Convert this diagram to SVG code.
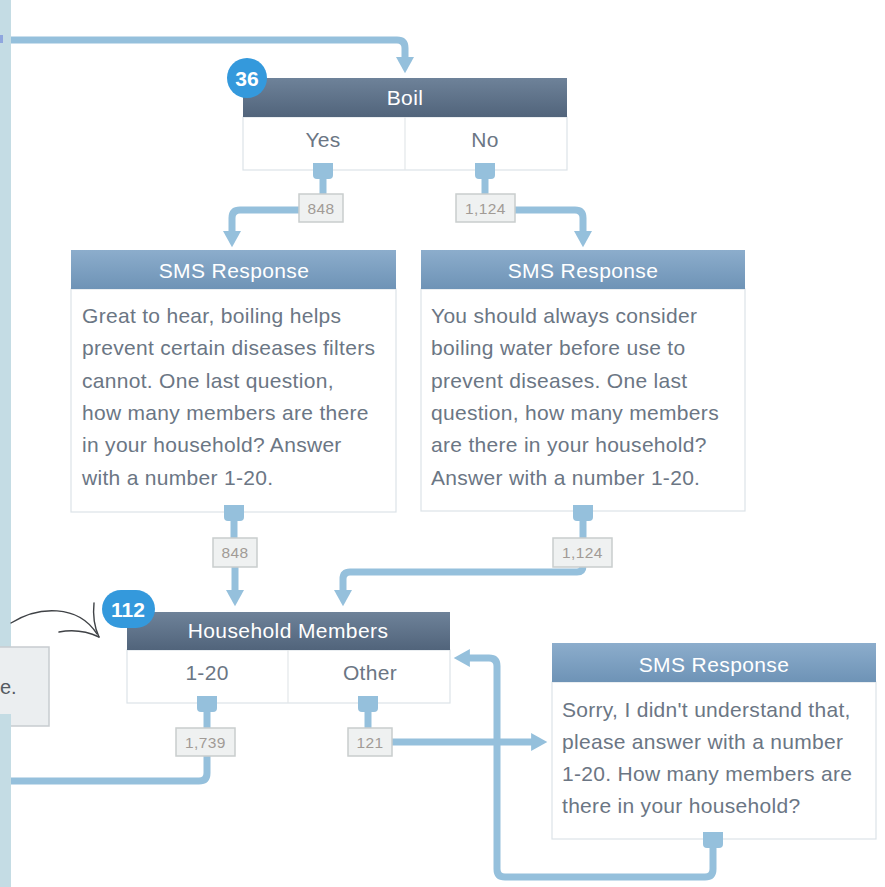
<svg xmlns="http://www.w3.org/2000/svg" width="885" height="887" viewBox="0 0 885 887">
<defs>
<linearGradient id="gDark" x1="0" y1="0" x2="0" y2="1">
<stop offset="0" stop-color="#6e8299"/><stop offset="1" stop-color="#51647b"/>
</linearGradient>
<linearGradient id="gSms" x1="0" y1="0" x2="0" y2="1">
<stop offset="0" stop-color="#8cadcc"/><stop offset="1" stop-color="#6e93b6"/>
</linearGradient>
<path id="port" d="M-10 0 H10 V12 Q10 16 6 16 H-6 Q-10 16 -10 12 Z"/>
<marker id="arr" markerWidth="20" markerHeight="18" refX="1" refY="10" orient="auto" markerUnits="userSpaceOnUse" viewBox="0 0 20 20">
<path d="M0 0 L18 10 L0 20 Z" fill="#95c0dc"/>
</marker>
<style>
.hdr{font-family:"Liberation Sans",Arial,sans-serif;font-size:21px;fill:#ffffff;text-anchor:middle;letter-spacing:0.4px}
.body{fill:#ffffff;stroke:#dce3e8;stroke-width:1.2}
.opt{font-family:"Liberation Sans",Arial,sans-serif;font-size:21px;fill:#6b7684;text-anchor:middle;letter-spacing:0.3px}
.txt{font-family:"Liberation Sans",Arial,sans-serif;font-size:21px;fill:#6b7684;letter-spacing:0.3px}
.div{stroke:#e3e7ea;stroke-width:1.2}
.badge{fill:#3499dc}
.btxt{font-family:"Liberation Sans",Arial,sans-serif;font-size:21px;font-weight:bold;fill:#ffffff;text-anchor:middle}
.conn{fill:none;stroke:#95c0dc;stroke-width:7;stroke-linejoin:round}
.pt{fill:#95c0dc}
.lbl rect{fill:#eff1f1;stroke:#c9cdcd;stroke-width:1.5}
.lbl text{font-family:"Liberation Sans",Arial,sans-serif;font-size:15.5px;fill:#a19b96;text-anchor:middle;letter-spacing:0.4px}
</style>
</defs>
<rect width="885" height="887" fill="#ffffff"/>

<!-- left sidebar -->
<rect x="0" y="0" width="11" height="887" fill="#c4dce4"/>
<rect x="0" y="35" width="3" height="8" fill="#8fa6de"/>

<!-- comment box -->
<g id="comment">
<rect x="-5" y="647" width="54" height="79" fill="#ebeef0" stroke="#c7ccd0" stroke-width="1.5"/>
<text x="0" y="694" font-family="Liberation Sans, Arial, sans-serif" font-size="20" fill="#555b62">e.</text>
</g>
<rect x="0" y="714" width="11" height="173" fill="#c4dce4"/>
<g id="hand-arrow" fill="none" stroke="#3f4246" stroke-width="1.4" stroke-linecap="round">
<path d="M11 623 C38 606 78 604 97 634"/>
<path d="M94 603 Q92 622 99 637"/>
<path d="M59 632 Q80 628 99 637"/>
</g>

<!-- connectors -->
<g id="connectors">
<path class="conn" d="M11 40 H397 Q405 40 405 48 V58" marker-end="url(#arr)"/>
<path class="conn" d="M323 178 V196"/>
<path class="conn" d="M300 210 H240 Q232 210 232 218 V232" marker-end="url(#arr)"/>
<path class="conn" d="M485 178 V196"/>
<path class="conn" d="M514 210 H575 Q583 210 583 218 V232" marker-end="url(#arr)"/>
<path class="conn" d="M234 520 V540"/>
<path class="conn" d="M235 566 V591" marker-end="url(#arr)"/>
<path class="conn" d="M583 520 V540"/>
<path class="conn" d="M583 566 Q583 572 577 572 H350 Q343 572 343 579 V591" marker-end="url(#arr)"/>
<path class="conn" d="M207 710 V730"/>
<path class="conn" d="M207 755 V773 Q207 781 199 781 H11"/>
<path class="conn" d="M368 710 V730"/>
<path class="conn" d="M391 742 H532" marker-end="url(#arr)"/>
<path class="conn" d="M713 845 V869 Q713 877 705 877 H505 Q497 877 497 869 V666 Q497 658 489 658 H469" marker-end="url(#arr)"/>
</g>

<!-- Boil node -->
<g id="node-boil">
<rect class="body" x="243" y="117" width="324" height="53"/>
<rect x="243" y="78" width="324" height="39" fill="url(#gDark)"/>
<line class="div" x1="405" y1="117" x2="405" y2="170"/>
<text class="hdr" x="405" y="105">Boil</text>
<text class="opt" x="323" y="147">Yes</text>
<text class="opt" x="485" y="147">No</text>
<use href="#port" class="pt" x="323" y="163"/>
<use href="#port" class="pt" x="485" y="163"/>
<circle class="badge" cx="247" cy="78" r="20"/>
<text class="btxt" x="247" y="86">36</text>
</g>

<!-- SMS left -->
<g id="node-sms-yes">
<rect class="body" x="71" y="289" width="325" height="223"/>
<rect x="71" y="250" width="325" height="39" fill="url(#gSms)"/>
<text class="hdr" x="234" y="278">SMS Response</text>
<text class="txt" x="82" y="323">Great to hear, boiling helps</text>
<text class="txt" x="82" y="355">prevent certain diseases filters</text>
<text class="txt" x="82" y="388">cannot. One last question,</text>
<text class="txt" x="82" y="420">how many members are there</text>
<text class="txt" x="82" y="452">in your household? Answer</text>
<text class="txt" x="82" y="485">with a number 1-20.</text>
<use href="#port" class="pt" x="234" y="505"/>
</g>

<!-- SMS right -->
<g id="node-sms-no">
<rect class="body" x="421" y="289" width="324" height="222"/>
<rect x="421" y="250" width="324" height="39" fill="url(#gSms)"/>
<text class="hdr" x="583" y="278">SMS Response</text>
<text class="txt" x="431" y="323">You should always consider</text>
<text class="txt" x="431" y="355">boiling water before use to</text>
<text class="txt" x="431" y="388">prevent diseases. One last</text>
<text class="txt" x="431" y="420">question, how many members</text>
<text class="txt" x="431" y="452">are there in your household?</text>
<text class="txt" x="431" y="485">Answer with a number 1-20.</text>
<use href="#port" class="pt" x="583" y="505"/>
</g>

<!-- Household Members -->
<g id="node-household">
<rect class="body" x="127" y="650" width="323" height="53"/>
<rect x="127" y="612" width="323" height="38" fill="url(#gDark)"/>
<line class="div" x1="288" y1="650" x2="288" y2="703"/>
<text class="hdr" x="288" y="638">Household Members</text>
<text class="opt" x="207" y="680">1-20</text>
<text class="opt" x="370" y="680">Other</text>
<use href="#port" class="pt" x="207" y="696"/>
<use href="#port" class="pt" x="368" y="696"/>
<rect class="badge" x="102" y="590" width="53" height="38" rx="19"/>
<text class="btxt" x="128" y="617">112</text>
</g>

<!-- SMS sorry -->
<g id="node-sms-other">
<rect class="body" x="552" y="682" width="324" height="157"/>
<rect x="552" y="643" width="324" height="39" fill="url(#gSms)"/>
<text class="hdr" x="714" y="672">SMS Response</text>
<text class="txt" x="562" y="717">Sorry, I didn't understand that,</text>
<text class="txt" x="562" y="749">please answer with a number</text>
<text class="txt" x="562" y="781">1-20. How many members are</text>
<text class="txt" x="562" y="813">there in your household?</text>
<use href="#port" class="pt" x="713" y="832"/>
</g>

<!-- count labels -->
<g id="labels">
<g class="lbl"><rect x="299" y="194" width="44" height="28"/><text x="321" y="214">848</text></g>
<g class="lbl"><rect x="456" y="194" width="59" height="28"/><text x="485.5" y="214">1,124</text></g>
<g class="lbl"><rect x="213" y="538" width="44" height="29"/><text x="235" y="558">848</text></g>
<g class="lbl"><rect x="553" y="538" width="59" height="29"/><text x="582.5" y="558">1,124</text></g>
<g class="lbl"><rect x="176" y="728" width="59" height="28"/><text x="205.5" y="748">1,739</text></g>
<g class="lbl"><rect x="348" y="728" width="44" height="28"/><text x="370" y="748">121</text></g>
</g>
</svg>
